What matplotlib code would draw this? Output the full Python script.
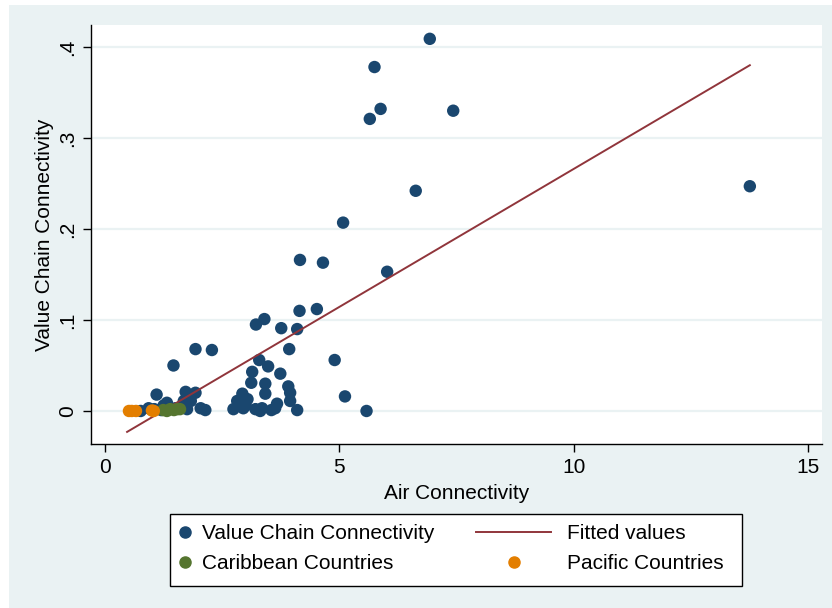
import matplotlib.pyplot as plt
from matplotlib.lines import Line2D
from matplotlib.patches import Rectangle

# value chain connectivity vs air connectivity (all countries)
vcc_x = [6.93, 5.75, 5.88, 5.65, 7.43, 6.63, 13.76, 5.08, 4.16, 4.65, 6.02,
         4.52, 4.15, 3.40, 3.22, 3.76, 4.10, 3.93, 1.93, 2.28, 1.46, 4.90,
         3.29, 3.48, 3.14, 3.74, 3.12, 3.42, 3.42, 3.91, 3.95, 3.95, 5.12,
         5.58, 4.10, 3.67, 3.63, 3.35, 3.31, 3.21, 3.04, 2.93, 2.95, 2.82,
         2.74, 2.14, 2.04, 1.93, 1.72, 1.83, 1.68, 1.10, 1.32, 1.25, 0.93,
         0.76, 1.50, 1.75, 1.20, 1.05, 3.55, 3.00]
vcc_y = [0.409, 0.378, 0.332, 0.321, 0.330, 0.242, 0.247, 0.207, 0.166, 0.163, 0.153,
         0.112, 0.110, 0.101, 0.095, 0.091, 0.090, 0.068, 0.068, 0.067, 0.050, 0.056,
         0.056, 0.049, 0.043, 0.041, 0.031, 0.030, 0.019, 0.027, 0.020, 0.011, 0.016,
         0.000, 0.001, 0.008, 0.003, 0.003, 0.000, 0.002, 0.013, 0.019, 0.003, 0.011,
         0.002, 0.001, 0.003, 0.020, 0.021, 0.011, 0.011, 0.018, 0.009, 0.006, 0.003,
         0.000, 0.003, 0.002, 0.001, 0.002, 0.001, 0.006]

carib_x = [1.24, 1.32, 1.39, 1.47, 1.54, 1.60]
carib_y = [0.001, 0.000, 0.002, 0.001, 0.002, 0.002]

pacific_x = [0.51, 0.57, 0.66, 1.00, 1.04]
pacific_y = [0.000, 0.000, 0.000, 0.0005, 0.000]

fit_x = [0.47, 13.76]
fit_y = [-0.023, 0.380]

x_ticks = [0, 5, 10, 15]
y_ticks = [0, 0.1, 0.2, 0.3, 0.4]
y_ticklabels = ["0", ".1", ".2", ".3", ".4"]

navy = "#1a476f"
maroon = "#90353b"
green = "#55752f"
orange = "#e37e00"
bg = "#eaf2f3"

plt.rcParams["font.family"] = ["Liberation Sans", "DejaVu Sans"]
plt.rcParams["font.size"] = 15

fig = plt.figure(figsize=(8.32, 6.08), dpi=100, facecolor="white")
# stata-style light background, with a thin white margin top/left
fig.patches.append(Rectangle((9 / 832, 0), 1 - 9 / 832, 1 - 5 / 608,
                             transform=fig.transFigure, facecolor=bg,
                             edgecolor="none", zorder=-2))

ax = fig.add_axes([91 / 832, 1 - 444 / 608, 731 / 832, 419 / 608])
ax.set_zorder(2)
ax.set_facecolor("white")
for s in ["top", "right"]:
    ax.spines[s].set_visible(False)
for s in ["left", "bottom"]:
    ax.spines[s].set_linewidth(1.0)
    ax.spines[s].set_color("black")

ax.set_xlim(-0.30, 15.30)
ax.set_ylim(-0.0363, 0.4242)
ax.set_xticks(x_ticks)
ax.set_yticks(y_ticks)
ax.set_yticklabels(y_ticklabels, rotation=90, va="center")
ax.tick_params(direction="out", length=6, width=1, labelsize=15, pad=4)
ax.yaxis.grid(True, color=bg, linewidth=1.6)
ax.set_axisbelow(True)

ax.scatter(vcc_x, vcc_y, s=80, color=navy, edgecolors="none", zorder=2)
ax.plot(fit_x, fit_y, color=maroon, linewidth=1.4, zorder=3)
ax.scatter(carib_x, carib_y, s=80, color=green, edgecolors="none", zorder=4)
ax.scatter(pacific_x, pacific_y, s=80, color=orange, edgecolors="none", zorder=5)

ax.set_xlabel("Air Connectivity", fontsize=15, labelpad=5)
ax.set_ylabel("Value Chain Connectivity", fontsize=15, labelpad=3)

# legend: white box with two columns of different handle widths
fig.patches.append(Rectangle((170 / 832, 1 - 586 / 608), 572 / 832, 72 / 608,
                             transform=fig.transFigure, facecolor="white",
                             edgecolor="black", linewidth=1.0, zorder=1))
h_vcc = Line2D([], [], marker="o", linestyle="none", color=navy, markersize=8)
h_car = Line2D([], [], marker="o", linestyle="none", color=green, markersize=8)
h_fit = Line2D([], [], color=maroon, linewidth=1.4)
h_pac = Line2D([], [], marker="o", linestyle="none", color=orange, markersize=8)

fig.legend([h_vcc, h_car], ["Value Chain Connectivity", "Caribbean Countries"],
           loc="upper left", bbox_to_anchor=(178 / 832, 1 - 524 / 608),
           frameon=False, handlelength=0.7, handletextpad=0.45,
           labelspacing=0.55, borderpad=0, borderaxespad=0, fontsize=15)
fig.legend([h_fit, h_pac], ["Fitted values", "Pacific Countries"],
           loc="upper left", bbox_to_anchor=(476 / 832, 1 - 524 / 608),
           frameon=False, handlelength=3.6, handletextpad=0.75,
           labelspacing=0.55, borderpad=0, borderaxespad=0, fontsize=15)

fig.savefig("out.png", dpi=100, facecolor="white")
